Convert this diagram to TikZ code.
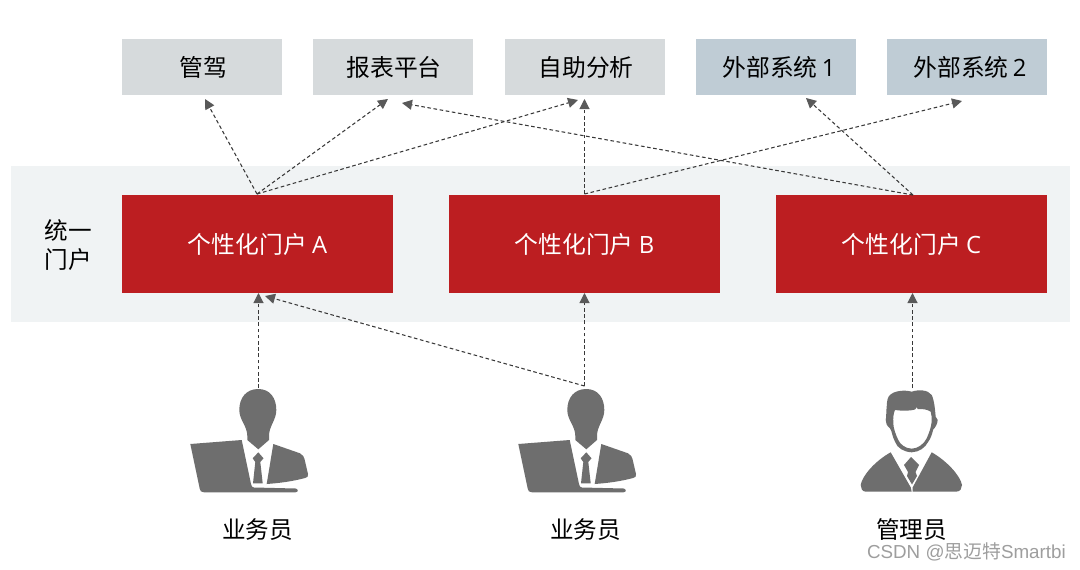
\documentclass[tikz,border=0pt]{standalone}
\usepackage{fontspec}
\setmainfont{Noto Sans CJK SC}
\newfontfamily\latinf{Open Sans}
\newfontfamily\wmf{Liberation Sans}
\newfontfamily\wmcjk{Noto Sans CJK SC}
\usetikzlibrary{arrows.meta}
\definecolor{boxgrey}{HTML}{D6DADC}
\definecolor{boxblue}{HTML}{BFCCD5}
\definecolor{portalred}{HTML}{BC1E21}
\definecolor{bandgrey}{HTML}{F0F3F4}
\definecolor{icongrey}{HTML}{6E6E6E}
\definecolor{linegrey}{HTML}{383838}
\definecolor{tipgrey}{HTML}{595959}
\tikzset{
  x=1pt,y=-1pt,
  label text/.style={font=\fontsize{23.6}{29}\selectfont,text=black,inner sep=0pt,align=center},
  topbox/.style={minimum width=160pt,minimum height=56pt,inner sep=0pt,text=black,font=\fontsize{23.8}{29}\selectfont},
  greybox/.style={topbox,fill=boxgrey},
  bluebox/.style={topbox,fill=boxblue},
  redbox/.style={minimum width=271pt,minimum height=98pt,inner sep=0pt,fill=portalred,text=white,font=\fontsize{23.8}{29}\selectfont},
  flow/.style={draw=linegrey,line width=1.05pt,dash pattern=on 3.6pt off 2.6pt,
     -{Triangle[length=10pt,width=10pt,color=tipgrey,fill=tipgrey,sep=0pt]}},
  icon/.style={fill=icongrey,draw=none},
}
\begin{document}
\begin{tikzpicture}
\useasboundingbox (0,0) rectangle (1080,570);
\fill[white] (0,0) rectangle (1080,570);
\fill[bandgrey] (11,166) rectangle (1070,322);

\node[greybox] (guanjia) at (202,67) {\hspace*{2pt}管驾};
\node[greybox] (baobiao) at (393,67) {\hspace*{2pt}报表平台};
\node[greybox] (zizhu) at (585,67) {\hspace*{2pt}自助分析};
\node[bluebox] (ext1) at (776,67) {\hspace*{6pt}外部系统\hspace{-1pt} {\latinf 1}};
\node[bluebox] (ext2) at (967,67) {\hspace*{6pt}外部系统\hspace{-1pt} {\latinf 2}};

\node[label text] (tongyi) at (68.5,245) {统一\\门户};
\node[redbox] (pa) at (257.5,244) {个性化门户 {\latinf A}};
\node[redbox] (pb) at (584.5,244) {个性化门户 {\latinf B}};
\node[redbox] (pc) at (911.5,244) {个性化门户 {\latinf C}};

\node[label text] (u1) at (257.5,530) {业务员};
\node[label text] (u2) at (585.5,530) {业务员};
\node[label text] (u3) at (911.5,530) {管理员};
\node[inner sep=0pt,text=black!38,anchor=east] (wm) at (1066,552) {\fontsize{18.8}{20}\selectfont\wmf CSDN @{\wmcjk 思迈特}Smartbi};

% connector ends
\coordinate (aup) at (257,194);
\coordinate (bup) at (584.5,194);
\coordinate (cup) at (913,195);
\coordinate (u1top) at (258.5,388);
\coordinate (u2top) at (584.5,386);
\coordinate (u3top) at (912.5,388);
\coordinate (tg) at (205,99);
\coordinate (tb) at (388,99);
\coordinate (tz) at (578,100);
\coordinate (tzb) at (584.5,99);
\coordinate (te2) at (962,101);
\coordinate (tbc) at (402,103);
\coordinate (te1) at (806,98);
\coordinate (pain) at (258.5,293);
\coordinate (pain2) at (265,296);
\coordinate (pbin) at (584.5,293);
\coordinate (pcin) at (912.5,293);

\draw[flow] (aup) -- (tg);
\draw[flow] (aup) -- (tb);
\draw[flow] (aup) -- (tz);
\draw[flow] (bup) -- (tzb);
\draw[flow] (bup) -- (te2);
\draw[flow] (cup) -- (tbc);
\draw[flow] (cup) -- (te1);
\draw[flow] (u1top) -- (pain);
\draw[flow] (u2top) -- (pain2);
\draw[flow] (u2top) -- (pbin);
\draw[flow] (u3top) -- (pcin);

% clerk icons
\foreach \dx in {0,328}{
\begin{scope}[xshift=\dx pt]
  \fill[icon] (258.3,389) .. controls (246,389) and (239.3,398) .. (239.3,410)
     .. controls (239.3,420) and (247.3,426) .. (247.3,436) -- (247.3,440) -- (258.3,449.3) -- (269,440) -- (269,436)
     .. controls (269,426) and (276.3,420) .. (276.3,410)
     .. controls (276.3,398) and (270,389) .. (258.3,389) -- cycle;
  \fill[icon] (190.3,444) -- (241.7,440) -- (251,484) .. controls (251.5,486.5) and (252,487) .. (254,487.5)
     -- (295.5,488.5) .. controls (298.5,489) and (298.5,492.3) .. (295.5,492.3)
     -- (204,492.3) .. controls (201,492.3) and (200.2,491) .. (199.8,489) -- cycle;
  \fill[icon] (258.3,452.3) -- (263.5,458.3) -- (260.3,462) -- (262.7,483.3) -- (253,483.3) -- (255.3,462) -- (252.7,458.3) -- cycle;
  \fill[icon] (273.3,444) -- (300,453.3) .. controls (303,455) and (304,457) .. (304.5,459)
     -- (308,474) .. controls (308.3,476.5) and (307.5,477.5) .. (305,478)
     .. controls (292,481.5) and (280,483) .. (266.7,484) -- cycle;
\end{scope}}

% manager icon
\fill[icon,even odd rule]
   (911.7,452.3) .. controls (904,452) and (897,448) .. (895,441.7)
   .. controls (892,436) and (892,431) .. (890,428.3)
   .. controls (887,426) and (885.5,423) .. (885.7,420)
   .. controls (886.5,417) and (886,412) .. (886.7,406.7)
   .. controls (887,401) and (887.5,397) .. (890,395)
   .. controls (894,391) and (904,389.5) .. (911.7,391.7)
   .. controls (918,389.5) and (928,389.5) .. (931.7,395)
   .. controls (934.5,401) and (935,410) .. (935.7,416.7)
   -- (937.7,420) .. controls (937.5,424) and (935,428) .. (933.3,429.3)
   .. controls (932,434) and (931,438) .. (928.3,441.7)
   .. controls (925,448) and (919,452) .. (911.7,452.3) -- cycle
   (911.7,448.7) .. controls (905,448.5) and (900,444) .. (898.3,440)
   .. controls (895,433) and (893.5,428) .. (893.3,423.3)
   .. controls (893,418) and (893.5,413) .. (895,410)
   .. controls (902,411) and (910,411) .. (915,409.5)
   -- (917,407) -- (917.5,409) .. controls (922,409) and (927,409) .. (930.7,411.7)
   .. controls (931.5,415) and (932,418) .. (931.7,421.7)
   .. controls (931,428) and (929,433) .. (926.7,438.3)
   .. controls (924,444) and (918,448.5) .. (911.7,448.7) -- cycle;
\fill[icon] (890.7,452.3) -- (910.7,487.3) -- (911.7,491.7) -- (866,491.7)
   .. controls (862,491.7) and (860.7,488) .. (860.7,485)
   .. controls (862,476) and (875,461) .. (890.7,452.3) -- cycle;
\fill[icon] (931.7,452.3) -- (912.7,487.3) -- (912.7,491.7) -- (956,491.7)
   .. controls (960.5,491.7) and (962,488) .. (962,485)
   .. controls (960.5,476) and (947,461) .. (931.7,452.3) -- cycle;
\fill[icon] (911,457) -- (919,465) -- (915.5,472) -- (917,476) -- (912,484.5) -- (907,476) -- (908,472) -- (904,465) -- cycle;
\end{tikzpicture}
\end{document}
